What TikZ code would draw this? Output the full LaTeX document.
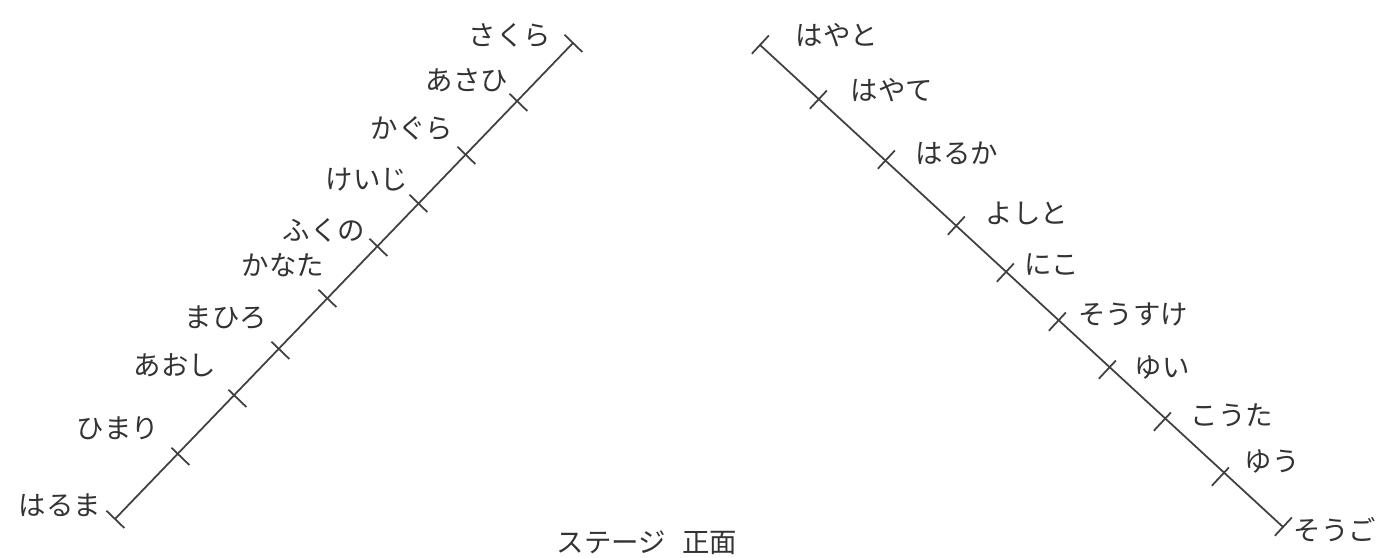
\documentclass[tikz,border=0pt]{standalone}
\usepackage{fontspec}
\newfontfamily\jp{Noto Sans CJK JP}
\usetikzlibrary{calc}

\begin{document}
\begin{tikzpicture}[x=1cm,y=1cm, font=\jp\fontsize{7.8}{10}\selectfont,
  rope/.style={draw=black!75, line width=0.5pt},
  tickmark/.style={draw=black!75, line width=0.5pt},
  pname/.style={text=black!80, inner sep=0pt},
]
\useasboundingbox (0,0) rectangle (13.92,5.58);
% ---------- left row ----------
\foreach \i/\x/\y in {0/1.15/0.39, 1/1.80/1.02, 2/2.37/1.60, 3/2.80/2.08, 4/3.27/2.60,
                      5/3.78/3.11, 6/4.18/3.55, 7/4.66/4.03, 8/5.18/4.56, 9/5.73/5.15}
  \coordinate (l\i) at (\x,\y);
\draw[rope] (l0) -- (l9);
\foreach \i in {0,...,9} \draw[tickmark] ($(l\i)+(136:0.12)$) -- ($(l\i)+(-44:0.13)$);
\foreach \i/\x/\y/\t in {0/0.60/0.53/はるま, 1/1.18/1.30/ひまり, 2/1.75/1.93/あおし,
                         3/2.26/2.40/まひろ, 4/2.83/2.93/かなた, 5/3.24/3.28/ふくの,
                         6/3.67/3.78/けいじ, 7/4.12/4.30/かぐら, 8/4.67/4.78/あさひ,
                         9/5.10/5.23/さくら}
  \node[pname] (ln\i) at (\x,\y) {\t};
% ---------- right row ----------
\foreach \i/\x/\y in {0/7.60/5.13, 1/8.18/4.58, 2/8.86/3.98, 3/9.56/3.32, 4/10.05/2.85,
                      5/10.57/2.36, 6/11.07/1.88, 7/11.62/1.36, 8/12.20/0.81, 9/12.83/0.31}
  \coordinate (r\i) at (\x,\y);
\draw[rope] (r0) -- (r9);
\foreach \i in {0,...,9} \draw[tickmark] ($(r\i)+(47:0.13)$) -- ($(r\i)+(-133:0.12)$);
\foreach \i/\x/\y/\t in {0/8.37/5.23/はやと, 1/8.92/4.68/はやて, 2/9.57/4.05/はるか,
                         3/10.27/3.45/よしと, 4/10.52/2.93/にこ, 5/11.33/2.44/そうすけ,
                         6/11.62/1.90/ゆい, 7/12.32/1.43/こうた, 8/12.72/0.96/ゆう,
                         9/13.35/0.28/そうご}
  \node[pname] (rn\i) at (\x,\y) {\t};
% ---------- stage ----------
\node[pname] (stage) at (6.47,0.15) {ステージ\hspace{0.6em}正面};
\end{tikzpicture}
\end{document}
